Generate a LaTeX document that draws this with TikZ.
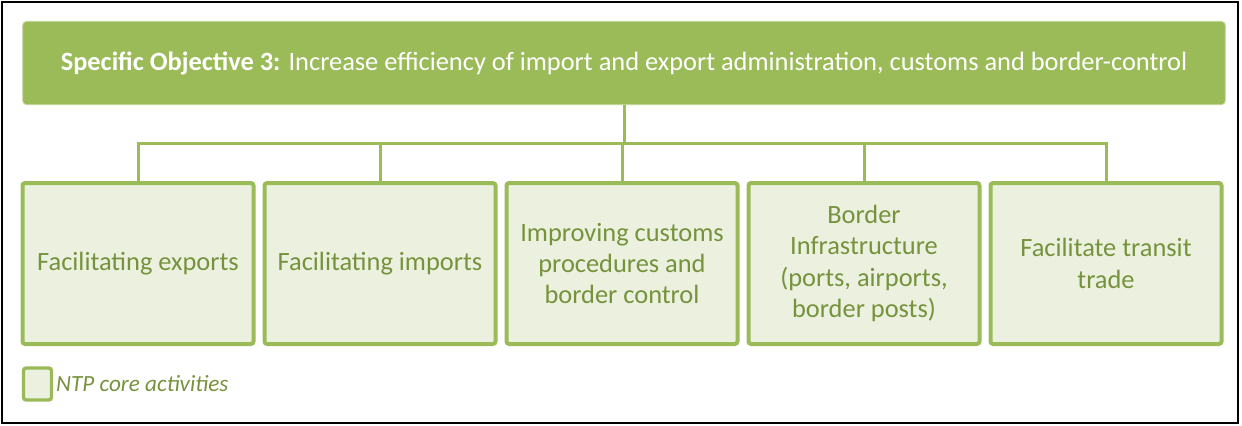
\documentclass[tikz,border=0pt]{standalone}
\usepackage{fontspec}
\setmainfont{Carlito}
\usetikzlibrary{positioning}
\definecolor{objgreen}{HTML}{9BBB59}
\definecolor{actfill}{HTML}{EBF1DE}
\definecolor{acttext}{HTML}{76923C}
\tikzset{
    objective/.style={draw=objgreen!60!white, line width=0.6pt, fill=objgreen, rounded corners=3pt,
        minimum width=902pt, minimum height=62.5pt, text=white, font=\fontsize{19.8}{23}\selectfont},
    activity/.style={draw=objgreen, line width=3pt, fill=actfill, rounded corners=2pt,
        minimum width=173.25pt, minimum height=120.75pt, align=center, text=acttext,
        font=\fontsize{19.8}{23.5}\selectfont},
    link/.style={draw=objgreen, line width=2.25pt}
}
\begin{document}
\begin{tikzpicture}[x=0.75pt, y=-0.75pt, node distance=5.25pt]
    \useasboundingbox (0, 0) rectangle (1242, 425);
    \draw[line width=1.5pt] (2, 2) rectangle (1238, 423);
    % objective and activities
    \node[objective] (obj) at (624, 63) {\textbf{Specific Objective 3:} Increase efficiency of import and export administration, customs and border-control};
    \node[activity] (act1) at (138, 263.5) {Facilitating exports};
    \node[activity, right=of act1] (act2) {Facilitating imports};
    \node[activity, right=of act2] (act3) {Improving customs\\procedures and\\border control};
    \node[activity, right=of act3] (act4) {Border\\Infrastructure\\(ports, airports,\\border posts)};
    \node[activity, right=of act4] (act5) {Facilitate transit\\trade};
    \coordinate (bus) at (624, 143);
    \foreach \n in {1,...,5}
        \draw[link] (obj.south) -- (obj.south |- bus) -| (act\n.north);
    % legend
    \node[activity, minimum width=21pt, minimum height=24pt, line width=2.5pt] (key) at (37.5, 384) {};
    \node[right=2pt of key, inner sep=0pt, text=acttext, font=\fontsize{17.4}{20}\selectfont\itshape] (keytext) {NTP core activities};
\end{tikzpicture}
\end{document}
